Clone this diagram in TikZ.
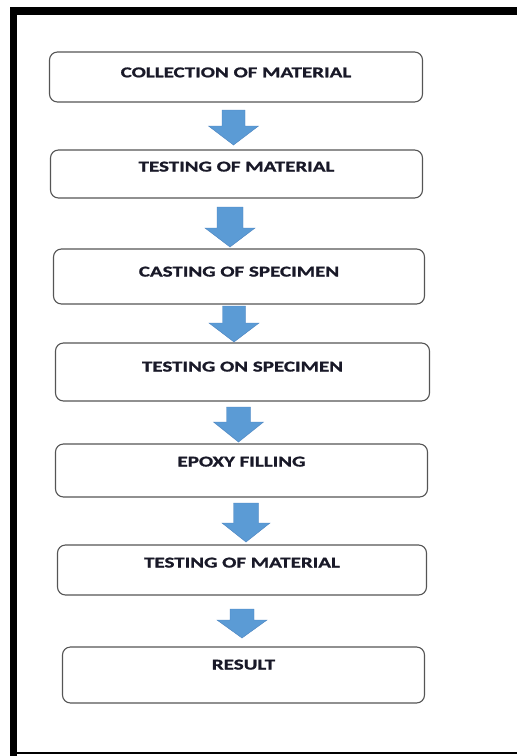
\documentclass[tikz,border=0pt]{standalone}
\usepackage{fontspec}
\newfontfamily\boxfont[FakeStretch=1.4,FakeBold=1.2]{Carlito}
\definecolor{arrowblue}{RGB}{91,155,213}
\definecolor{arrowedge}{RGB}{74,130,190}
\definecolor{boxedge}{RGB}{85,85,85}
\definecolor{txt}{RGB}{25,25,40}
\newcommand{\farrow}[6]{%
  \filldraw[farrow] (#1-#5,-#2) -- (#1+#5,-#2) -- (#1+#5,-#3) -- (#1+#6,-#3)
    -- (#1,-#4) -- (#1-#6,-#3) -- (#1-#5,-#3) -- cycle;}
\begin{document}
\begin{tikzpicture}[x=1pt,y=1pt,
  stepbox/.style n args={3}{draw=boxedge, line width=1.1pt, rounded corners=8pt,
    fill=white, inner sep=0pt, minimum width=#1pt,
    text height=#2pt, text depth=#3pt, font=\boxfont\bfseries\fontsize{15}{17}\selectfont,
    text=txt},
  farrow/.style={fill=arrowblue, draw=arrowedge, line width=0.4pt}]
\useasboundingbox (0,0) rectangle (517,-756);
% frame
\fill[black] (10,-7) rectangle (517,-15);
\fill[black] (10,-7) rectangle (17,-756);
\fill[black] (10,-752.3) rectangle (517,-754);
% boxes
\node[stepbox={373}{25.3}{24.7}] (b1) at (236,-77) {COLLECTION OF MATERIAL};
\node[stepbox={372}{21.5}{26.5}] (b2) at (236.5,-174) {TESTING OF MATERIAL};
\node[stepbox={371}{27.5}{27.5}] (b3) at (239,-276.5) {CASTING OF SPECIMEN};
\node[stepbox={374}{28.5}{29.5}] (b4) at (242.5,-372) {TESTING ON SPECIMEN};
\node[stepbox={372}{22.5}{30.5}] (b5) at (241.5,-470.5) {EPOXY FILLING};
\node[stepbox={369}{22.5}{27.5}] (b6) at (242,-570) {TESTING OF MATERIAL};
\node[stepbox={362}{22.5}{33.5}] (b7) at (243.5,-675) {RESULT};
% block arrows between the boxes
\farrow{233.5}{110}{126}{145}{11.5}{25}
\farrow{230}{207}{228}{247}{13}{25}
\farrow{234}{306}{323}{342}{11.5}{25}
\farrow{238.5}{407}{422}{442}{12}{25}
\farrow{246}{503}{523}{542}{12.5}{24}
\farrow{242}{609}{620}{638}{12}{25}
\end{tikzpicture}
\end{document}
